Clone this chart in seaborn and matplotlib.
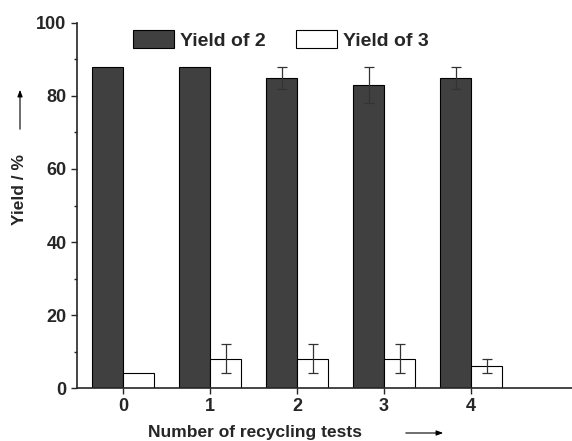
import matplotlib
matplotlib.use("Agg")
import matplotlib.pyplot as plt
import seaborn as sns
import pandas as pd
import numpy as np

sns.set_style("ticks")
plt.rcParams['font.family'] = ['Liberation Sans', 'DejaVu Sans']
plt.rcParams['font.weight'] = 'bold'

cycles = ["0", "1", "2", "3", "4"]
yield2 = [88, 88, 85, 83, 85]
yield2_err = [0, 0, 3, 5, 3]
yield3 = [4, 8, 8, 8, 6]
yield3_err = [0, 4, 4, 4, 2]
series = ["Yield of 2", "Yield of 3"]
colors = ["#404040", "#ffffff"]

df = pd.DataFrame({
    "cycle": cycles * 2,
    "value": yield2 + yield3,
    "series": [series[0]] * len(cycles) + [series[1]] * len(cycles),
})

fig = plt.figure(figsize=(5.72, 4.41), dpi=100)
ax = fig.add_axes([0.1346, 0.12, 0.8654, 0.828])

sns.barplot(data=df, x="cycle", y="value", hue="series", palette=colors,
            width=0.71, edgecolor="black", linewidth=0.8, ax=ax, errorbar=None,
            saturation=1)

errs = [yield2_err, yield3_err]
for cont, err in zip(ax.containers, errs):
    xs = [p.get_x() + p.get_width() / 2 for p in cont.patches]
    hs = [p.get_height() for p in cont.patches]
    xe, he, ee = [], [], []
    for x, h, e in zip(xs, hs, err):
        if e > 0:
            xe.append(x); he.append(h); ee.append(e)
    ax.errorbar(xe, he, yerr=ee, fmt="none", ecolor="#333333", elinewidth=0.9,
                capsize=3.5, capthick=0.9)

ax.set_ylim(0, 100)
ax.set_xlim(-0.53, 5.16)
ax.set_yticks([0, 20, 40, 60, 80, 100])
ax.set_yticks([10, 30, 50, 70, 90], minor=True)
ax.tick_params(axis="both", labelsize=13, width=1, length=4, direction="out")
ax.tick_params(axis="y", which="minor", length=2.5, width=1)
for lab in ax.get_xticklabels() + ax.get_yticklabels():
    lab.set_fontweight("bold")
sns.despine(ax=ax)
ax.spines["left"].set_linewidth(1.2)
ax.spines["bottom"].set_linewidth(1.2)

ax.set_xlabel("")
ax.set_ylabel("")
fig.text(148 / 572, 1 - 432 / 441, "Number of recycling tests", fontsize=12.5,
         fontweight="bold", ha="left", va="center")
fig.text(20 / 572, 1 - 190 / 441, "Yield / %", fontsize=12.5, fontweight="bold",
         rotation=90, ha="center", va="center")
fig.patches.append(matplotlib.patches.FancyArrowPatch(
    (403 / 572, 1 - 433 / 441), (446 / 572, 1 - 433 / 441),
    transform=fig.transFigure, arrowstyle="-|>,head_length=4,head_width=1.5",
    color="black", linewidth=0.8))
fig.patches.append(matplotlib.patches.FancyArrowPatch(
    (20 / 572, 1 - 132 / 441), (20 / 572, 1 - 87 / 441),
    transform=fig.transFigure, arrowstyle="-|>,head_length=4,head_width=1.5",
    color="black", linewidth=0.8))

leg = ax.legend(loc="center left", bbox_to_anchor=(133 / 572, 1 - 40 / 441),
                bbox_transform=fig.transFigure, ncol=2, borderpad=0,
                borderaxespad=0, frameon=False,
                prop={"size": 14, "weight": "bold"},
                handlelength=2.1, handleheight=1.0, columnspacing=1.6,
                handletextpad=0.3)

fig.savefig("out.png", dpi=100)
